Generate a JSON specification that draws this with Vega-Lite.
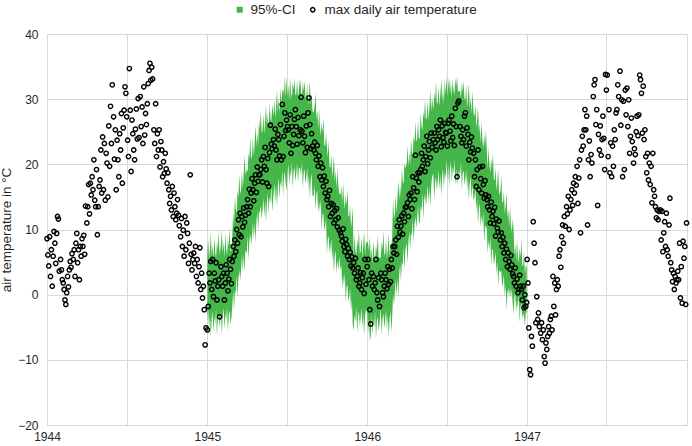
{
  "$schema": "https://vega.github.io/schema/vega-lite/v6.json",
  "width": 640,
  "height": 391,
  "autosize": {"type": "none"},
  "padding": {"left": 47, "top": 34, "right": 5, "bottom": 21},
  "config": {
    "font": "Liberation Sans",
    "view": {"stroke": null},
    "axis": {
      "grid": true,
      "gridColor": "#d9d9d9",
      "gridWidth": 1,
      "domain": false,
      "ticks": false,
      "labelFont": "Liberation Sans",
      "labelFontSize": 12,
      "labelColor": "#262626",
      "titleFont": "Liberation Sans",
      "titleFontSize": 13.5,
      "titleFontWeight": "normal",
      "titleColor": "#262626"
    },
    "legend": {
      "labelFont": "Liberation Sans",
      "labelFontSize": 13.5,
      "labelColor": "#262626",
      "padding": 0,
      "title": null
    }
  },
  "data": {
    "values": [
      {"d":"1944-01-01","t":8.6},{"d":"1944-01-03","t":6.1},{"d":"1944-01-05","t":4.4},{"d":"1944-01-07","t":8.9},{"d":"1944-01-09","t":2.8},{"d":"1944-01-11","t":6.9},{"d":"1944-01-13","t":1.3},{"d":"1944-01-15","t":5.9},{"d":"1944-01-17","t":9.7},{"d":"1944-01-19","t":7.9},{"d":"1944-01-21","t":4.8},{"d":"1944-01-23","t":9.4},{"d":"1944-01-25","t":12.0},{"d":"1944-01-27","t":11.6},{"d":"1944-01-29","t":3.6},
      {"d":"1944-02-01","t":5.4},{"d":"1944-02-03","t":3.8},{"d":"1944-02-05","t":2.3},{"d":"1944-02-07","t":1.8},{"d":"1944-02-09","t":0.8},{"d":"1944-02-11","t":-0.8},{"d":"1944-02-13","t":-1.5},{"d":"1944-02-15","t":0.3},{"d":"1944-02-17","t":2.8},{"d":"1944-02-19","t":1.2},{"d":"1944-02-21","t":3.8},{"d":"1944-02-23","t":5.1},{"d":"1944-02-25","t":4.2},{"d":"1944-02-27","t":6.3},
      {"d":"1944-03-01","t":5.4},{"d":"1944-03-03","t":6.9},{"d":"1944-03-05","t":2.8},{"d":"1944-03-07","t":7.9},{"d":"1944-03-09","t":9.4},{"d":"1944-03-11","t":4.9},{"d":"1944-03-13","t":6.9},{"d":"1944-03-15","t":2.3},{"d":"1944-03-17","t":7.4},{"d":"1944-03-19","t":5.9},{"d":"1944-03-21","t":8.6},{"d":"1944-03-23","t":7.4},{"d":"1944-03-25","t":9.1},{"d":"1944-03-27","t":6.2},{"d":"1944-03-29","t":13.6},
      {"d":"1944-04-01","t":11.0},{"d":"1944-04-03","t":13.5},{"d":"1944-04-05","t":16.9},{"d":"1944-04-07","t":12.4},{"d":"1944-04-09","t":17.1},{"d":"1944-04-11","t":15.3},{"d":"1944-04-13","t":18.1},{"d":"1944-04-15","t":16.1},{"d":"1944-04-17","t":20.7},{"d":"1944-04-19","t":14.5},{"d":"1944-04-21","t":13.5},{"d":"1944-04-23","t":19.2},{"d":"1944-04-25","t":9.2},{"d":"1944-04-27","t":13.5},{"d":"1944-04-29","t":16.6},
      {"d":"1944-05-01","t":17.6},{"d":"1944-05-03","t":22.2},{"d":"1944-05-05","t":15.6},{"d":"1944-05-07","t":24.2},{"d":"1944-05-09","t":16.1},{"d":"1944-05-11","t":23.2},{"d":"1944-05-13","t":14.5},{"d":"1944-05-15","t":21.7},{"d":"1944-05-17","t":20.2},{"d":"1944-05-19","t":15.0},{"d":"1944-05-21","t":25.9},{"d":"1944-05-23","t":19.7},{"d":"1944-05-25","t":28.9},{"d":"1944-05-27","t":23.2},{"d":"1944-05-29","t":32.2},
      {"d":"1944-06-01","t":27.3},{"d":"1944-06-03","t":20.8},{"d":"1944-06-05","t":25.3},{"d":"1944-06-07","t":16.1},{"d":"1944-06-09","t":23.7},{"d":"1944-06-11","t":20.7},{"d":"1944-06-13","t":18.1},{"d":"1944-06-15","t":24.7},{"d":"1944-06-17","t":22.2},{"d":"1944-06-19","t":27.8},{"d":"1944-06-21","t":17.1},{"d":"1944-06-23","t":25.6},{"d":"1944-06-25","t":28.3},{"d":"1944-06-27","t":31.9},{"d":"1944-06-29","t":30.9},
      {"d":"1944-07-01","t":27.3},{"d":"1944-07-03","t":23.7},{"d":"1944-07-05","t":21.2},{"d":"1944-07-07","t":34.7},{"d":"1944-07-09","t":28.3},{"d":"1944-07-11","t":18.9},{"d":"1944-07-13","t":26.8},{"d":"1944-07-15","t":24.7},{"d":"1944-07-17","t":22.2},{"d":"1944-07-19","t":20.7},{"d":"1944-07-21","t":25.4},{"d":"1944-07-23","t":28.5},{"d":"1944-07-25","t":23.9},{"d":"1944-07-27","t":30.1},{"d":"1944-07-29","t":24.1},
      {"d":"1944-08-01","t":30.4},{"d":"1944-08-03","t":25.8},{"d":"1944-08-05","t":28.8},{"d":"1944-08-07","t":23.2},{"d":"1944-08-09","t":31.9},{"d":"1944-08-11","t":24.5},{"d":"1944-08-13","t":27.8},{"d":"1944-08-15","t":26.1},{"d":"1944-08-17","t":29.3},{"d":"1944-08-19","t":32.4},{"d":"1944-08-21","t":34.4},{"d":"1944-08-23","t":35.5},{"d":"1944-08-25","t":32.9},{"d":"1944-08-27","t":34.9},{"d":"1944-08-29","t":33.1},
      {"d":"1944-09-01","t":25.3},{"d":"1944-09-03","t":23.2},{"d":"1944-09-05","t":29.3},{"d":"1944-09-07","t":21.2},{"d":"1944-09-09","t":24.7},{"d":"1944-09-11","t":22.2},{"d":"1944-09-13","t":25.3},{"d":"1944-09-15","t":19.6},{"d":"1944-09-17","t":23.5},{"d":"1944-09-19","t":22.2},{"d":"1944-09-21","t":18.1},{"d":"1944-09-23","t":20.4},{"d":"1944-09-25","t":18.6},{"d":"1944-09-27","t":21.7},{"d":"1944-09-29","t":19.3},
      {"d":"1944-10-01","t":17.1},{"d":"1944-10-03","t":18.7},{"d":"1944-10-05","t":16.1},{"d":"1944-10-07","t":14.0},{"d":"1944-10-09","t":15.1},{"d":"1944-10-11","t":13.0},{"d":"1944-10-13","t":16.6},{"d":"1944-10-15","t":12.0},{"d":"1944-10-17","t":15.6},{"d":"1944-10-19","t":13.5},{"d":"1944-10-21","t":11.5},{"d":"1944-10-23","t":12.5},{"d":"1944-10-25","t":14.6},{"d":"1944-10-27","t":12.2},{"d":"1944-10-29","t":10.6},
      {"d":"1944-11-01","t":8.9},{"d":"1944-11-03","t":11.7},{"d":"1944-11-05","t":7.4},{"d":"1944-11-07","t":9.9},{"d":"1944-11-09","t":5.9},{"d":"1944-11-11","t":12.0},{"d":"1944-11-13","t":6.9},{"d":"1944-11-15","t":11.0},{"d":"1944-11-17","t":9.4},{"d":"1944-11-19","t":4.8},{"d":"1944-11-21","t":7.9},{"d":"1944-11-23","t":18.4},{"d":"1944-11-25","t":6.2},{"d":"1944-11-27","t":3.8},{"d":"1944-11-29","t":5.4},
      {"d":"1944-12-01","t":6.4},{"d":"1944-12-03","t":4.8},{"d":"1944-12-05","t":7.4},{"d":"1944-12-07","t":2.8},{"d":"1944-12-09","t":5.4},{"d":"1944-12-11","t":1.8},{"d":"1944-12-13","t":4.3},{"d":"1944-12-15","t":7.2},{"d":"1944-12-17","t":0.8},{"d":"1944-12-19","t":3.3},{"d":"1944-12-21","t":-0.5},{"d":"1944-12-23","t":1.3},{"d":"1944-12-25","t":-2.3},{"d":"1944-12-27","t":-7.7},{"d":"1944-12-29","t":-5.1},
      {"d":"1945-01-01","t":-5.4,"lo":-4.0,"hi":6.3},{"d":"1945-01-03","t":-1.8,"lo":-2.3,"hi":8.6},{"d":"1945-01-05","t":3.3,"lo":-5.4,"hi":5.4},{"d":"1945-01-07","t":1.8,"lo":-3.1,"hi":7.1},{"d":"1945-01-09","t":5.1,"lo":-6.6,"hi":9.5},{"d":"1945-01-11","t":0.8,"lo":-3.7,"hi":5.8},{"d":"1945-01-13","t":5.4,"lo":-2.5,"hi":7.7},{"d":"1945-01-15","t":-0.3,"lo":-5.8,"hi":5.2},{"d":"1945-01-17","t":3.3,"lo":-3.4,"hi":8.9},{"d":"1945-01-19","t":2.1,"lo":-4.5,"hi":6.5},{"d":"1945-01-21","t":4.9,"lo":-2.1,"hi":5.6},{"d":"1945-01-23","t":-0.8,"lo":-6.3,"hi":8.2},{"d":"1945-01-25","t":1.3,"lo":-3.6,"hi":6.9},{"d":"1945-01-27","t":2.3,"lo":-2.9,"hi":9.8},{"d":"1945-01-29","t":-3.4,"lo":-5.1,"hi":6.1},
      {"d":"1945-02-01","t":4.3,"lo":-2.6,"hi":7.6},{"d":"1945-02-03","t":2.8,"lo":-6.1,"hi":10.0},{"d":"1945-02-05","t":1.3,"lo":-3.2,"hi":6.3},{"d":"1945-02-07","t":3.3,"lo":-2.0,"hi":8.2},{"d":"1945-02-09","t":-0.8,"lo":-5.3,"hi":5.7},{"d":"1945-02-11","t":1.8,"lo":-2.9,"hi":9.4},{"d":"1945-02-13","t":4.6,"lo":-4.0,"hi":7.0},{"d":"1945-02-15","t":3.3,"lo":-1.6,"hi":6.1},{"d":"1945-02-17","t":0.6,"lo":-5.8,"hi":8.7},{"d":"1945-02-19","t":2.4,"lo":-3.1,"hi":7.4},{"d":"1945-02-21","t":5.4,"lo":-2.4,"hi":10.3},{"d":"1945-02-23","t":3.9,"lo":-4.6,"hi":6.6},{"d":"1945-02-25","t":1.7,"lo":-3.5,"hi":6.8},{"d":"1945-02-27","t":5.1,"lo":-1.8,"hi":9.1},
      {"d":"1945-03-01","t":7.4,"lo":0.5,"hi":12.7},{"d":"1945-03-03","t":5.9,"lo":-2.3,"hi":10.7},{"d":"1945-03-05","t":8.4,"lo":0.7,"hi":15.0},{"d":"1945-03-07","t":6.6,"lo":0.1,"hi":13.1},{"d":"1945-03-09","t":10.0,"lo":3.0,"hi":12.7},{"d":"1945-03-11","t":7.9,"lo":-0.6,"hi":15.9},{"d":"1945-03-13","t":11.5,"lo":2.6,"hi":15.1},{"d":"1945-03-15","t":9.2,"lo":3.8,"hi":18.5},{"d":"1945-03-17","t":12.5,"lo":2.2,"hi":15.4},{"d":"1945-03-19","t":8.9,"lo":3.8,"hi":16.1},{"d":"1945-03-21","t":12.0,"lo":6.1,"hi":19.0},{"d":"1945-03-23","t":10.4,"lo":3.5,"hi":16.3},{"d":"1945-03-25","t":13.3,"lo":6.3,"hi":18.5},{"d":"1945-03-27","t":11.1,"lo":3.4,"hi":21.5},{"d":"1945-03-29","t":12.2,"lo":6.8,"hi":18.3},
      {"d":"1945-04-01","t":13.5,"lo":6.3,"hi":19.3},{"d":"1945-04-03","t":14.6,"lo":9.1,"hi":18.8},{"d":"1945-04-05","t":12.5,"lo":5.2,"hi":21.7},{"d":"1945-04-07","t":16.2,"lo":8.3,"hi":20.8},{"d":"1945-04-09","t":13.5,"lo":9.4,"hi":24.1},{"d":"1945-04-11","t":15.6,"lo":7.6,"hi":20.8},{"d":"1945-04-13","t":17.8,"lo":9.0,"hi":21.3},{"d":"1945-04-15","t":16.1,"lo":11.1,"hi":24.0},{"d":"1945-04-17","t":14.4,"lo":8.4,"hi":21.2},{"d":"1945-04-19","t":17.1,"lo":11.1,"hi":23.3},{"d":"1945-04-21","t":18.4,"lo":7.9,"hi":26.0},{"d":"1945-04-23","t":15.7,"lo":11.2,"hi":22.7},{"d":"1945-04-25","t":19.6,"lo":12.8,"hi":25.0},{"d":"1945-04-27","t":17.4,"lo":9.8,"hi":22.8},{"d":"1945-04-29","t":18.4,"lo":12.6,"hi":26.9},
      {"d":"1945-05-01","t":18.4,"lo":12.7,"hi":25.2},{"d":"1945-05-03","t":19.2,"lo":13.6,"hi":28.3},{"d":"1945-05-05","t":20.7,"lo":11.6,"hi":24.8},{"d":"1945-05-07","t":17.3,"lo":12.9,"hi":25.2},{"d":"1945-05-09","t":21.2,"lo":14.8,"hi":27.7},{"d":"1945-05-11","t":19.7,"lo":11.9,"hi":24.7},{"d":"1945-05-13","t":22.6,"lo":14.4,"hi":26.6},{"d":"1945-05-15","t":19.2,"lo":11.1,"hi":29.2},{"d":"1945-05-17","t":17.1,"lo":14.2,"hi":25.7},{"d":"1945-05-19","t":20.9,"lo":15.5,"hi":27.7},{"d":"1945-05-21","t":16.6,"lo":12.4,"hi":25.4},{"d":"1945-05-23","t":21.8,"lo":15.0,"hi":29.3},{"d":"1945-05-25","t":26.0,"lo":14.1,"hi":27.1},{"d":"1945-05-27","t":23.1,"lo":16.7,"hi":26.4},{"d":"1945-05-29","t":22.4,"lo":12.7,"hi":29.2},
      {"d":"1945-06-01","t":23.8,"lo":15.2,"hi":27.5},{"d":"1945-06-03","t":22.8,"lo":17.1,"hi":30.0},{"d":"1945-06-05","t":25.4,"lo":14.2,"hi":27.0},{"d":"1945-06-07","t":22.2,"lo":16.7,"hi":28.9},{"d":"1945-06-09","t":20.7,"lo":13.4,"hi":31.5},{"d":"1945-06-11","t":24.6,"lo":16.5,"hi":28.0},{"d":"1945-06-13","t":23.8,"lo":17.9,"hi":30.1},{"d":"1945-06-15","t":21.3,"lo":14.8,"hi":27.8},{"d":"1945-06-17","t":26.1,"lo":17.4,"hi":31.7},{"d":"1945-06-19","t":20.7,"lo":16.5,"hi":29.5},{"d":"1945-06-21","t":29.2,"lo":19.1,"hi":31.2},{"d":"1945-06-23","t":21.2,"lo":15.1,"hi":31.6},{"d":"1945-06-25","t":24.3,"lo":18.0,"hi":30.5},{"d":"1945-06-27","t":27.9,"lo":18.9,"hi":33.6},{"d":"1945-06-29","t":25.2,"lo":16.9,"hi":30.1},
      {"d":"1945-07-01","t":26.8,"lo":15.9,"hi":33.5},{"d":"1945-07-03","t":25.8,"lo":18.8,"hi":30.3},{"d":"1945-07-05","t":25.3,"lo":20.0,"hi":32.2},{"d":"1945-07-07","t":23.3,"lo":16.7,"hi":29.7},{"d":"1945-07-09","t":27.6,"lo":19.1,"hi":33.4},{"d":"1945-07-11","t":21.7,"lo":18.0,"hi":31.0},{"d":"1945-07-13","t":25.8,"lo":20.4,"hi":30.1},{"d":"1945-07-15","t":22.9,"lo":16.2,"hi":32.7},{"d":"1945-07-17","t":24.6,"lo":18.9,"hi":31.4},{"d":"1945-07-19","t":26.9,"lo":19.6,"hi":33.2},{"d":"1945-07-21","t":28.4,"lo":17.4,"hi":30.6},{"d":"1945-07-23","t":25.8,"lo":18.5,"hi":30.8},{"d":"1945-07-25","t":23.1,"lo":20.2,"hi":33.1},{"d":"1945-07-27","t":27.2,"lo":17.1,"hi":29.9},{"d":"1945-07-29","t":24.4,"lo":19.4,"hi":31.6},
      {"d":"1945-08-01","t":25.3,"lo":19.4,"hi":33.2},{"d":"1945-08-03","t":30.3,"lo":18.2,"hi":31.2},{"d":"1945-08-05","t":25.1,"lo":20.5,"hi":30.2},{"d":"1945-08-07","t":23.3,"lo":16.2,"hi":32.7},{"d":"1945-08-09","t":27.4,"lo":18.7,"hi":31.2},{"d":"1945-08-11","t":24.3,"lo":19.3,"hi":32.9},{"d":"1945-08-13","t":21.8,"lo":17.0,"hi":30.2},{"d":"1945-08-15","t":25.9,"lo":17.9,"hi":30.2},{"d":"1945-08-17","t":22.6,"lo":19.5,"hi":32.4},{"d":"1945-08-19","t":27.9,"lo":16.3,"hi":29.1},{"d":"1945-08-21","t":30.2,"lo":18.4,"hi":30.6},{"d":"1945-08-23","t":26.1,"lo":14.8,"hi":32.9},{"d":"1945-08-25","t":22.4,"lo":17.6,"hi":29.1},{"d":"1945-08-27","t":24.7,"lo":18.6,"hi":30.8},{"d":"1945-08-29","t":22.8,"lo":15.2,"hi":28.2},
      {"d":"1945-09-01","t":22.2,"lo":15.1,"hi":27.9},{"d":"1945-09-03","t":23.4,"lo":16.9,"hi":29.1},{"d":"1945-09-05","t":21.7,"lo":13.0,"hi":31.1},{"d":"1945-09-07","t":20.7,"lo":15.4,"hi":26.9},{"d":"1945-09-09","t":22.9,"lo":16.1,"hi":28.3},{"d":"1945-09-11","t":19.7,"lo":12.4,"hi":25.4},{"d":"1945-09-13","t":21.3,"lo":14.3,"hi":28.6},{"d":"1945-09-15","t":18.1,"lo":12.8,"hi":25.8},{"d":"1945-09-17","t":20.2,"lo":14.7,"hi":24.4},{"d":"1945-09-19","t":17.6,"lo":10.0,"hi":26.5},{"d":"1945-09-21","t":19.5,"lo":12.3,"hi":24.8},{"d":"1945-09-23","t":16.6,"lo":12.5,"hi":27.2},{"d":"1945-09-25","t":18.2,"lo":9.8,"hi":23.0},{"d":"1945-09-27","t":15.6,"lo":10.5,"hi":22.8},{"d":"1945-09-29","t":17.4,"lo":11.7,"hi":24.6},
      {"d":"1945-10-01","t":14.6,"lo":6.2,"hi":22.7},{"d":"1945-10-03","t":15.1,"lo":8.6,"hi":21.1},{"d":"1945-10-05","t":13.5,"lo":9.0,"hi":23.7},{"d":"1945-10-07","t":16.0,"lo":6.4,"hi":19.6},{"d":"1945-10-09","t":12.0,"lo":7.2,"hi":19.5},{"d":"1945-10-11","t":14.0,"lo":8.6,"hi":21.5},{"d":"1945-10-13","t":12.5,"lo":5.2,"hi":18.0},{"d":"1945-10-15","t":13.8,"lo":7.2,"hi":19.4},{"d":"1945-10-17","t":11.0,"lo":3.3,"hi":21.4},{"d":"1945-10-19","t":12.9,"lo":5.9,"hi":17.4},{"d":"1945-10-21","t":11.5,"lo":6.8,"hi":19.0},{"d":"1945-10-23","t":13.2,"lo":3.2,"hi":16.2},{"d":"1945-10-25","t":10.4,"lo":5.2,"hi":19.5},{"d":"1945-10-27","t":11.8,"lo":3.8,"hi":16.8},{"d":"1945-10-29","t":9.9,"lo":5.9,"hi":15.6},
      {"d":"1945-11-01","t":9.5,"lo":3.8,"hi":15.3},{"d":"1945-11-03","t":9.0,"lo":4.6,"hi":16.8},{"d":"1945-11-05","t":8.2,"lo":0.9,"hi":13.9},{"d":"1945-11-07","t":10.1,"lo":2.9,"hi":17.2},{"d":"1945-11-09","t":7.4,"lo":1.4,"hi":14.4},{"d":"1945-11-11","t":6.6,"lo":3.4,"hi":13.1},{"d":"1945-11-13","t":8.5,"lo":-1.2,"hi":15.3},{"d":"1945-11-15","t":7.7,"lo":1.2,"hi":13.7},{"d":"1945-11-17","t":5.9,"lo":1.5,"hi":16.2},{"d":"1945-11-19","t":7.1,"lo":-1.1,"hi":12.1},{"d":"1945-11-21","t":5.4,"lo":-0.4,"hi":11.9},{"d":"1945-11-23","t":6.5,"lo":0.9,"hi":13.8},{"d":"1945-11-25","t":4.4,"lo":-2.6,"hi":10.2},{"d":"1945-11-27","t":5.8,"lo":-0.7,"hi":11.5},{"d":"1945-11-29","t":4.1,"lo":-4.6,"hi":13.5},
      {"d":"1945-12-01","t":4.9,"lo":-5.5,"hi":5.5},{"d":"1945-12-03","t":3.3,"lo":-3.1,"hi":9.2},{"d":"1945-12-05","t":5.6,"lo":-4.2,"hi":6.8},{"d":"1945-12-07","t":2.3,"lo":-1.8,"hi":5.9},{"d":"1945-12-09","t":2.8,"lo":-6.0,"hi":8.5},{"d":"1945-12-11","t":4.1,"lo":-3.3,"hi":7.2},{"d":"1945-12-13","t":1.3,"lo":-2.6,"hi":10.1},{"d":"1945-12-15","t":1.8,"lo":-4.8,"hi":6.4},{"d":"1945-12-17","t":3.4,"lo":-3.7,"hi":6.6},{"d":"1945-12-19","t":0.8,"lo":-2.0,"hi":8.9},{"d":"1945-12-21","t":2.6,"lo":-5.1,"hi":5.7},{"d":"1945-12-23","t":3.3,"lo":-2.8,"hi":7.4},{"d":"1945-12-25","t":0.2,"lo":-6.3,"hi":9.8},{"d":"1945-12-27","t":5.4,"lo":-3.4,"hi":6.1},{"d":"1945-12-29","t":1.6,"lo":-2.2,"hi":8.0},
      {"d":"1946-01-01","t":4.3,"lo":-2.8,"hi":8.1},{"d":"1946-01-03","t":5.4,"lo":-5.9,"hi":7.9},{"d":"1946-01-05","t":2.3,"lo":-3.6,"hi":6.6},{"d":"1946-01-07","t":-2.3,"lo":-7.1,"hi":9.0},{"d":"1946-01-09","t":-4.5,"lo":-6.4,"hi":5.3},{"d":"1946-01-11","t":3.3,"lo":-3.0,"hi":7.2},{"d":"1946-01-13","t":1.3,"lo":-6.3,"hi":4.7},{"d":"1946-01-15","t":2.8,"lo":-3.9,"hi":8.4},{"d":"1946-01-17","t":0.8,"lo":-5.0,"hi":6.0},{"d":"1946-01-19","t":1.8,"lo":-2.6,"hi":5.1},{"d":"1946-01-21","t":5.4,"lo":-6.8,"hi":7.7},{"d":"1946-01-23","t":0.3,"lo":-4.1,"hi":6.4},{"d":"1946-01-25","t":-0.8,"lo":-3.4,"hi":9.3},{"d":"1946-01-27","t":2.6,"lo":-5.6,"hi":5.6},{"d":"1946-01-29","t":-1.8,"lo":-4.5,"hi":5.8},
      {"d":"1946-02-01","t":3.3,"lo":-2.1,"hi":5.6},{"d":"1946-02-03","t":2.3,"lo":-6.3,"hi":8.2},{"d":"1946-02-05","t":0.3,"lo":-3.6,"hi":6.9},{"d":"1946-02-07","t":-0.3,"lo":-2.9,"hi":9.8},{"d":"1946-02-09","t":1.3,"lo":-5.1,"hi":6.1},{"d":"1946-02-11","t":3.3,"lo":-4.0,"hi":6.3},{"d":"1946-02-13","t":2.3,"lo":-2.3,"hi":8.6},{"d":"1946-02-15","t":0.9,"lo":-5.4,"hi":5.4},{"d":"1946-02-17","t":4.3,"lo":-3.1,"hi":7.1},{"d":"1946-02-19","t":1.6,"lo":-6.6,"hi":9.5},{"d":"1946-02-21","t":3.9,"lo":-3.7,"hi":5.8},{"d":"1946-02-23","t":2.0,"lo":-2.5,"hi":7.7},{"d":"1946-02-25","t":5.4,"lo":-5.8,"hi":7.4},{"d":"1946-02-27","t":4.1,"lo":-3.4,"hi":8.9},
      {"d":"1946-03-01","t":7.4,"lo":0.1,"hi":14.8},{"d":"1946-03-03","t":6.4,"lo":-1.6,"hi":11.6},{"d":"1946-03-05","t":7.4,"lo":0.1,"hi":12.4},{"d":"1946-03-07","t":8.4,"lo":2.3,"hi":15.2},{"d":"1946-03-09","t":6.2,"lo":-0.3,"hi":12.5},{"d":"1946-03-11","t":10.5,"lo":2.6,"hi":14.8},{"d":"1946-03-13","t":8.8,"lo":-0.4,"hi":17.7},{"d":"1946-03-15","t":11.5,"lo":3.0,"hi":14.5},{"d":"1946-03-17","t":9.6,"lo":4.8,"hi":17.0},{"d":"1946-03-19","t":10.5,"lo":2.0,"hi":15.0},{"d":"1946-03-21","t":12.1,"lo":5.0,"hi":19.3},{"d":"1946-03-23","t":9.3,"lo":4.4,"hi":17.4},{"d":"1946-03-25","t":12.5,"lo":7.3,"hi":17.0},{"d":"1946-03-27","t":11.2,"lo":3.7,"hi":20.2},{"d":"1946-03-29","t":13.4,"lo":6.9,"hi":19.4},
      {"d":"1946-04-01","t":13.5,"lo":7.9,"hi":20.1},{"d":"1946-04-03","t":14.1,"lo":4.8,"hi":22.9},{"d":"1946-04-05","t":12.0,"lo":8.1,"hi":19.6},{"d":"1946-04-07","t":15.3,"lo":9.7,"hi":21.9},{"d":"1946-04-09","t":14.6,"lo":6.8,"hi":19.8},{"d":"1946-04-11","t":15.6,"lo":9.6,"hi":23.9},{"d":"1946-04-13","t":13.2,"lo":8.9,"hi":21.9},{"d":"1946-04-15","t":18.1,"lo":11.7,"hi":21.4},{"d":"1946-04-17","t":16.4,"lo":7.8,"hi":24.3},{"d":"1946-04-19","t":14.6,"lo":10.9,"hi":23.4},{"d":"1946-04-21","t":21.4,"lo":12.0,"hi":26.7},{"d":"1946-04-23","t":17.9,"lo":10.2,"hi":23.4},{"d":"1946-04-25","t":15.8,"lo":11.7,"hi":24.0},{"d":"1946-04-27","t":18.7,"lo":13.8,"hi":26.7},{"d":"1946-04-29","t":17.3,"lo":11.1,"hi":23.9},
      {"d":"1946-05-01","t":18.7,"lo":11.0,"hi":24.0},{"d":"1946-05-03","t":19.2,"lo":13.7,"hi":28.0},{"d":"1946-05-05","t":21.7,"lo":12.8,"hi":25.8},{"d":"1946-05-07","t":19.7,"lo":15.5,"hi":25.2},{"d":"1946-05-09","t":20.7,"lo":11.6,"hi":28.1},{"d":"1946-05-11","t":22.8,"lo":14.5,"hi":27.0},{"d":"1946-05-13","t":18.9,"lo":15.5,"hi":30.2},{"d":"1946-05-15","t":21.2,"lo":13.6,"hi":26.8},{"d":"1946-05-17","t":24.3,"lo":14.9,"hi":27.2},{"d":"1946-05-19","t":20.1,"lo":16.9,"hi":29.8},{"d":"1946-05-21","t":22.2,"lo":14.0,"hi":26.8},{"d":"1946-05-23","t":23.5,"lo":16.6,"hi":28.8},{"d":"1946-05-25","t":21.0,"lo":13.4,"hi":31.5},{"d":"1946-05-27","t":24.8,"lo":16.5,"hi":28.0},{"d":"1946-05-29","t":22.6,"lo":18.0,"hi":30.2},
      {"d":"1946-06-01","t":23.8,"lo":18.6,"hi":28.3},{"d":"1946-06-03","t":24.8,"lo":14.5,"hi":31.0},{"d":"1946-06-05","t":23.3,"lo":17.3,"hi":29.8},{"d":"1946-06-07","t":22.2,"lo":18.1,"hi":32.8},{"d":"1946-06-09","t":25.8,"lo":16.0,"hi":29.2},{"d":"1946-06-11","t":23.8,"lo":17.3,"hi":29.6},{"d":"1946-06-13","t":25.3,"lo":19.1,"hi":32.0},{"d":"1946-06-15","t":24.3,"lo":16.1,"hi":28.9},{"d":"1946-06-17","t":26.8,"lo":18.5,"hi":30.7},{"d":"1946-06-19","t":22.7,"lo":15.1,"hi":33.2},{"d":"1946-06-21","t":25.9,"lo":18.1,"hi":29.6},{"d":"1946-06-23","t":24.1,"lo":19.4,"hi":31.6},{"d":"1946-06-25","t":23.4,"lo":16.2,"hi":29.2},{"d":"1946-06-27","t":26.3,"lo":18.8,"hi":33.1},{"d":"1946-06-29","t":24.9,"lo":17.8,"hi":30.8},
      {"d":"1946-07-01","t":24.8,"lo":20.7,"hi":33.6},{"d":"1946-07-03","t":22.8,"lo":17.6,"hi":30.4},{"d":"1946-07-05","t":26.3,"lo":19.9,"hi":32.1},{"d":"1946-07-07","t":26.8,"lo":16.4,"hi":33.3},{"d":"1946-07-09","t":25.1,"lo":19.3,"hi":30.8},{"d":"1946-07-11","t":23.6,"lo":20.5,"hi":32.7},{"d":"1946-07-13","t":27.4,"lo":17.2,"hi":30.2},{"d":"1946-07-15","t":24.1,"lo":19.6,"hi":33.0},{"d":"1946-07-17","t":26.2,"lo":18.5,"hi":31.5},{"d":"1946-07-19","t":22.9,"lo":20.9,"hi":30.6},{"d":"1946-07-21","t":28.6,"lo":16.7,"hi":33.2},{"d":"1946-07-23","t":25.8,"lo":19.4,"hi":31.9},{"d":"1946-07-25","t":18.1,"lo":16.8,"hi":33.6},{"d":"1946-07-27","t":29.4,"lo":17.9,"hi":31.1},{"d":"1946-07-29","t":29.7,"lo":19.0,"hi":31.3},
      {"d":"1946-08-01","t":25.8,"lo":18.2,"hi":31.2},{"d":"1946-08-03","t":24.3,"lo":20.4,"hi":30.1},{"d":"1946-08-05","t":23.3,"lo":16.1,"hi":32.6},{"d":"1946-08-07","t":25.3,"lo":18.6,"hi":31.1},{"d":"1946-08-09","t":23.8,"lo":19.1,"hi":32.8},{"d":"1946-08-11","t":27.4,"lo":16.8,"hi":30.0},{"d":"1946-08-13","t":27.9,"lo":17.7,"hi":30.0},{"d":"1946-08-15","t":22.8,"lo":19.2,"hi":32.1},{"d":"1946-08-17","t":25.6,"lo":15.9,"hi":28.7},{"d":"1946-08-19","t":24.6,"lo":18.1,"hi":30.3},{"d":"1946-08-21","t":20.7,"lo":14.4,"hi":32.5},{"d":"1946-08-23","t":23.4,"lo":17.1,"hi":28.6},{"d":"1946-08-25","t":21.9,"lo":18.1,"hi":30.3},{"d":"1946-08-27","t":24.2,"lo":14.7,"hi":27.7},{"d":"1946-08-29","t":22.5,"lo":16.9,"hi":31.2},
      {"d":"1946-09-01","t":21.7,"lo":14.4,"hi":27.6},{"d":"1946-09-03","t":18.1,"lo":15.1,"hi":27.4},{"d":"1946-09-05","t":20.7,"lo":16.3,"hi":29.2},{"d":"1946-09-07","t":16.6,"lo":12.8,"hi":25.6},{"d":"1946-09-09","t":19.2,"lo":14.7,"hi":26.9},{"d":"1946-09-11","t":22.2,"lo":10.8,"hi":28.9},{"d":"1946-09-13","t":16.1,"lo":13.2,"hi":24.7},{"d":"1946-09-15","t":19.6,"lo":14.0,"hi":26.2},{"d":"1946-09-17","t":17.8,"lo":10.3,"hi":23.3},{"d":"1946-09-19","t":15.6,"lo":12.2,"hi":26.5},{"d":"1946-09-21","t":19.7,"lo":10.7,"hi":23.7},{"d":"1946-09-23","t":16.9,"lo":12.7,"hi":22.4},{"d":"1946-09-25","t":14.8,"lo":8.1,"hi":24.6},{"d":"1946-09-27","t":17.5,"lo":10.3,"hi":22.8},{"d":"1946-09-29","t":15.3,"lo":10.6,"hi":25.3},
      {"d":"1946-10-01","t":14.6,"lo":10.0,"hi":22.2},{"d":"1946-10-03","t":13.5,"lo":6.3,"hi":19.3},{"d":"1946-10-05","t":15.1,"lo":8.4,"hi":22.7},{"d":"1946-10-07","t":13.0,"lo":6.9,"hi":19.9},{"d":"1946-10-09","t":11.0,"lo":9.0,"hi":18.7},{"d":"1946-10-11","t":14.2,"lo":4.4,"hi":20.9},{"d":"1946-10-13","t":12.0,"lo":6.8,"hi":19.3},{"d":"1946-10-15","t":12.8,"lo":7.1,"hi":21.8},{"d":"1946-10-17","t":10.9,"lo":4.5,"hi":17.7},{"d":"1946-10-19","t":13.4,"lo":5.3,"hi":17.6},{"d":"1946-10-21","t":9.0,"lo":6.6,"hi":19.5},{"d":"1946-10-23","t":11.6,"lo":3.2,"hi":16.0},{"d":"1946-10-25","t":10.2,"lo":5.1,"hi":17.3},{"d":"1946-10-27","t":9.6,"lo":1.3,"hi":19.4},{"d":"1946-10-29","t":11.3,"lo":3.8,"hi":15.3},
      {"d":"1946-11-01","t":8.4,"lo":3.4,"hi":15.9},{"d":"1946-11-03","t":9.5,"lo":3.7,"hi":18.4},{"d":"1946-11-05","t":7.4,"lo":1.1,"hi":14.3},{"d":"1946-11-07","t":8.8,"lo":1.8,"hi":14.1},{"d":"1946-11-09","t":6.4,"lo":3.1,"hi":16.0},{"d":"1946-11-11","t":7.9,"lo":-0.4,"hi":12.4},{"d":"1946-11-13","t":5.4,"lo":1.5,"hi":13.7},{"d":"1946-11-15","t":7.0,"lo":-2.3,"hi":15.8},{"d":"1946-11-17","t":4.3,"lo":0.2,"hi":11.7},{"d":"1946-11-19","t":6.4,"lo":1.0,"hi":13.2},{"d":"1946-11-21","t":5.1,"lo":-0.2,"hi":10.3},{"d":"1946-11-23","t":3.9,"lo":1.1,"hi":13.6},{"d":"1946-11-25","t":6.0,"lo":-0.6,"hi":10.8},{"d":"1946-11-27","t":4.6,"lo":0.9,"hi":9.5},{"d":"1946-11-29","t":3.2,"lo":-1.2,"hi":11.7},
      {"d":"1946-12-01","t":2.8,"lo":-3.1,"hi":10.0},{"d":"1946-12-03","t":1.8,"lo":-0.4,"hi":6.1},{"d":"1946-12-05","t":4.1,"lo":0.6,"hi":7.8},{"d":"1946-12-07","t":1.3,"lo":-2.9,"hi":5.1},{"d":"1946-12-09","t":2.4,"lo":-0.8,"hi":8.5},{"d":"1946-12-11","t":0.3,"lo":-2.1,"hi":5.9},{"d":"1946-12-13","t":0.8,"lo":0.1,"hi":4.8},{"d":"1946-12-15","t":3.0,"lo":-4.3,"hi":7.2},{"d":"1946-12-17","t":1.3,"lo":-1.8,"hi":5.7},{"d":"1946-12-19","t":0.8,"lo":-1.3,"hi":8.4},{"d":"1946-12-21","t":-0.8,"lo":-3.7,"hi":4.5},{"d":"1946-12-23","t":1.3,"lo":-2.9,"hi":4.4},{"d":"1946-12-25","t":-2.0,"lo":-3.4,"hi":6.5},{"d":"1946-12-27","t":0.0,"lo":-4.7,"hi":3.1},{"d":"1946-12-29","t":-1.8,"lo":-2.6,"hi":4.6},{"d":"1946-12-31","t":-1.2,"lo":-3.0,"hi":4.2},
      {"d":"1947-01-01","t":5.4},{"d":"1947-01-03","t":1.8},{"d":"1947-01-05","t":-5.1},{"d":"1947-01-07","t":-11.5},{"d":"1947-01-09","t":-12.3},{"d":"1947-01-11","t":-6.4},{"d":"1947-01-13","t":-7.9},{"d":"1947-01-15","t":11.2},{"d":"1947-01-17","t":7.9},{"d":"1947-01-19","t":4.9},{"d":"1947-01-21","t":-4.3},{"d":"1947-01-23","t":-0.3},{"d":"1947-01-25","t":-3.8},{"d":"1947-01-27","t":-2.8},{"d":"1947-01-29","t":-4.9},
      {"d":"1947-02-01","t":-5.9},{"d":"1947-02-03","t":-4.3},{"d":"1947-02-05","t":-6.9},{"d":"1947-02-07","t":-5.4},{"d":"1947-02-09","t":-9.5},{"d":"1947-02-11","t":-10.5},{"d":"1947-02-13","t":-7.4},{"d":"1947-02-15","t":-8.4},{"d":"1947-02-17","t":-6.4},{"d":"1947-02-19","t":-4.9},{"d":"1947-02-21","t":-5.9},{"d":"1947-02-23","t":-3.8},{"d":"1947-02-25","t":-3.3},{"d":"1947-02-27","t":-5.4},
      {"d":"1947-03-01","t":2.8},{"d":"1947-03-03","t":-1.8},{"d":"1947-03-05","t":1.8},{"d":"1947-03-07","t":-3.1},{"d":"1947-03-09","t":0.8},{"d":"1947-03-11","t":2.3},{"d":"1947-03-13","t":1.3},{"d":"1947-03-15","t":5.9},{"d":"1947-03-17","t":6.9},{"d":"1947-03-19","t":4.2},{"d":"1947-03-21","t":8.9},{"d":"1947-03-23","t":10.7},{"d":"1947-03-25","t":7.9},{"d":"1947-03-27","t":12.0},{"d":"1947-03-29","t":10.5},
      {"d":"1947-04-01","t":13.5},{"d":"1947-04-03","t":12.4},{"d":"1947-04-05","t":15.1},{"d":"1947-04-07","t":10.0},{"d":"1947-04-09","t":13.0},{"d":"1947-04-11","t":14.6},{"d":"1947-04-13","t":16.1},{"d":"1947-04-15","t":13.7},{"d":"1947-04-17","t":17.1},{"d":"1947-04-19","t":15.6},{"d":"1947-04-21","t":18.1},{"d":"1947-04-23","t":16.8},{"d":"1947-04-25","t":19.7},{"d":"1947-04-27","t":14.0},{"d":"1947-04-29","t":17.9},
      {"d":"1947-05-01","t":20.7},{"d":"1947-05-03","t":9.5},{"d":"1947-05-05","t":22.2},{"d":"1947-05-07","t":24.3},{"d":"1947-05-09","t":22.8},{"d":"1947-05-11","t":25.3},{"d":"1947-05-13","t":28.4},{"d":"1947-05-15","t":25.3},{"d":"1947-05-17","t":27.4},{"d":"1947-05-19","t":10.7},{"d":"1947-05-21","t":20.7},{"d":"1947-05-23","t":23.6},{"d":"1947-05-25","t":18.1},{"d":"1947-05-27","t":21.5},{"d":"1947-05-29","t":20.2},
      {"d":"1947-06-01","t":30.4},{"d":"1947-06-03","t":32.2},{"d":"1947-06-05","t":33.0},{"d":"1947-06-07","t":26.1},{"d":"1947-06-09","t":28.4},{"d":"1947-06-11","t":13.7},{"d":"1947-06-13","t":24.6},{"d":"1947-06-15","t":22.2},{"d":"1947-06-17","t":25.9},{"d":"1947-06-19","t":21.4},{"d":"1947-06-21","t":23.8},{"d":"1947-06-23","t":27.4},{"d":"1947-06-25","t":24.0},{"d":"1947-06-27","t":19.2},{"d":"1947-06-29","t":33.8},
      {"d":"1947-07-01","t":31.4},{"d":"1947-07-03","t":33.7},{"d":"1947-07-05","t":21.2},{"d":"1947-07-07","t":28.4},{"d":"1947-07-09","t":18.7},{"d":"1947-07-11","t":23.3},{"d":"1947-07-13","t":18.1},{"d":"1947-07-15","t":22.8},{"d":"1947-07-17","t":19.7},{"d":"1947-07-19","t":25.3},{"d":"1947-07-21","t":23.8},{"d":"1947-07-23","t":27.9},{"d":"1947-07-25","t":28.4},{"d":"1947-07-27","t":32.2},{"d":"1947-07-29","t":30.4},
      {"d":"1947-08-01","t":34.3},{"d":"1947-08-03","t":26.0},{"d":"1947-08-05","t":29.9},{"d":"1947-08-07","t":18.1},{"d":"1947-08-09","t":29.7},{"d":"1947-08-11","t":19.2},{"d":"1947-08-13","t":31.4},{"d":"1947-08-15","t":27.6},{"d":"1947-08-17","t":31.7},{"d":"1947-08-19","t":25.8},{"d":"1947-08-21","t":29.9},{"d":"1947-08-23","t":21.7},{"d":"1947-08-25","t":24.3},{"d":"1947-08-27","t":27.1},{"d":"1947-08-29","t":23.5},
      {"d":"1947-09-01","t":20.2},{"d":"1947-09-03","t":22.4},{"d":"1947-09-05","t":21.5},{"d":"1947-09-07","t":25.0},{"d":"1947-09-09","t":27.4},{"d":"1947-09-11","t":24.4},{"d":"1947-09-13","t":27.6},{"d":"1947-09-15","t":33.7},{"d":"1947-09-17","t":33.0},{"d":"1947-09-19","t":30.9},{"d":"1947-09-21","t":24.8},{"d":"1947-09-23","t":32.0},{"d":"1947-09-25","t":23.8},{"d":"1947-09-27","t":25.3},{"d":"1947-09-29","t":21.2},
      {"d":"1947-10-01","t":18.7},{"d":"1947-10-03","t":21.7},{"d":"1947-10-05","t":17.6},{"d":"1947-10-07","t":20.2},{"d":"1947-10-09","t":16.9},{"d":"1947-10-11","t":19.7},{"d":"1947-10-13","t":14.1},{"d":"1947-10-15","t":21.7},{"d":"1947-10-17","t":16.1},{"d":"1947-10-19","t":15.1},{"d":"1947-10-21","t":13.5},{"d":"1947-10-23","t":11.8},{"d":"1947-10-25","t":13.0},{"d":"1947-10-27","t":11.5},{"d":"1947-10-29","t":12.8},
      {"d":"1947-11-01","t":13.0},{"d":"1947-11-03","t":8.4},{"d":"1947-11-05","t":12.8},{"d":"1947-11-07","t":6.6},{"d":"1947-11-09","t":9.5},{"d":"1947-11-11","t":11.2},{"d":"1947-11-13","t":7.4},{"d":"1947-11-15","t":12.5},{"d":"1947-11-17","t":6.9},{"d":"1947-11-19","t":5.9},{"d":"1947-11-21","t":10.7},{"d":"1947-11-23","t":14.8},{"d":"1947-11-25","t":4.9},{"d":"1947-11-27","t":3.8},{"d":"1947-11-29","t":2.0},
      {"d":"1947-12-01","t":3.3},{"d":"1947-12-03","t":0.8},{"d":"1947-12-05","t":2.8},{"d":"1947-12-07","t":1.8},{"d":"1947-12-09","t":2.3},{"d":"1947-12-11","t":3.6},{"d":"1947-12-13","t":2.3},{"d":"1947-12-15","t":7.9},{"d":"1947-12-17","t":-0.5},{"d":"1947-12-19","t":4.3},{"d":"1947-12-21","t":-1.3},{"d":"1947-12-23","t":8.2},{"d":"1947-12-25","t":5.6},{"d":"1947-12-27","t":7.4},{"d":"1947-12-29","t":-1.5},{"d":"1947-12-31","t":11.0}
    ]
  },
  "encoding": {
    "x": {
      "field": "d",
      "type": "temporal",
      "title": null,
      "scale": {
        "type": "utc",
        "domain": [
          {"year": 1944, "month": 1, "date": 1, "utc": true},
          {"year": 1948, "month": 1, "date": 1, "utc": true}
        ]
      },
      "axis": {
        "values": [
          {"year": 1944, "month": 1, "date": 1, "utc": true},
          {"year": 1944, "month": 7, "date": 1, "utc": true},
          {"year": 1945, "month": 1, "date": 1, "utc": true},
          {"year": 1945, "month": 7, "date": 1, "utc": true},
          {"year": 1946, "month": 1, "date": 1, "utc": true},
          {"year": 1946, "month": 7, "date": 1, "utc": true},
          {"year": 1947, "month": 1, "date": 1, "utc": true},
          {"year": 1947, "month": 7, "date": 1, "utc": true},
          {"year": 1948, "month": 1, "date": 1, "utc": true}
        ],
        "labelExpr": "utcmonth(datum.value) === 0 && utcyear(datum.value) < 1948 ? utcFormat(datum.value, '%Y') : ''",
        "labelFlush": false,
        "labelOverlap": false,
        "labelPadding": 6
      }
    }
  },
  "layer": [
    {
      "transform": [{"filter": "isValid(datum.lo)"}],
      "mark": {"type": "area", "opacity": 1, "interpolate": "linear"},
      "encoding": {
        "y": {
          "field": "lo",
          "type": "quantitative",
          "title": "air temperature in °C",
          "scale": {"domain": [-20, 40]},
          "axis": {"values": [-20, -10, 0, 10, 20, 30, 40], "labelPadding": 9, "titlePadding": 4}
        },
        "y2": {"field": "hi"},
        "fill": {
          "datum": "95%-CI",
          "type": "nominal",
          "scale": {"range": ["#45b649"]},
          "legend": {
            "orient": "none",
            "legendX": 186,
            "legendY": -31,
            "symbolType": "square",
            "symbolSize": 36,
            "symbolStrokeWidth": 0,
            "labelOffset": 4
          }
        }
      }
    },
    {
      "mark": {"type": "point", "shape": "circle", "filled": false, "size": 19, "strokeWidth": 1.4, "opacity": 1},
      "encoding": {
        "y": {
          "field": "t",
          "type": "quantitative",
          "title": "air temperature in °C"
        },
        "stroke": {
          "datum": "max daily air temperature",
          "type": "nominal",
          "scale": {"range": ["#000000"]},
          "legend": {
            "orient": "none",
            "legendX": 259,
            "legendY": -31,
            "symbolType": "circle",
            "symbolSize": 19,
            "symbolStrokeWidth": 1.4,
            "labelOffset": 5
          }
        }
      }
    }
  ]
}
